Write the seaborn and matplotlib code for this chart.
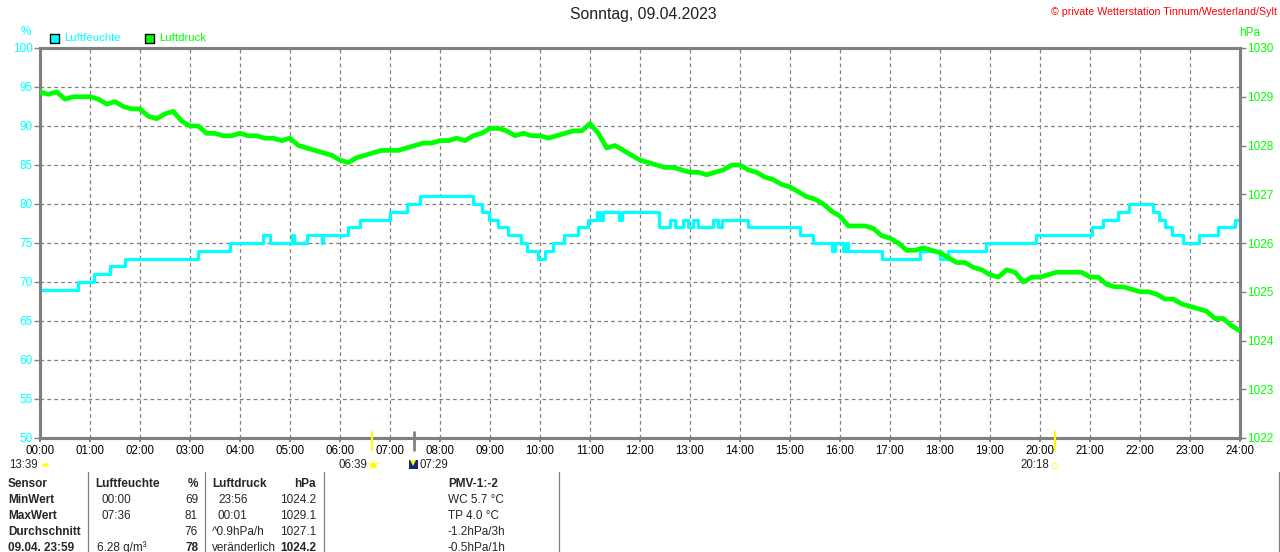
import numpy as np
import pandas as pd
import matplotlib
matplotlib.use('Agg')
import matplotlib.pyplot as plt
from matplotlib.patches import Rectangle
from matplotlib.lines import Line2D
import seaborn as sns

# Humidity (step series): time of change -> value in %
hum_times = ['00:00', '00:45', '01:05', '01:24', '01:42', '03:10', '03:48', '04:28', '04:36',
             '05:02', '05:05', '05:20', '05:38', '05:40', '06:10', '06:24', '07:00', '07:20',
             '07:36', '08:40', '08:50', '08:59', '09:10', '09:22', '09:37', '09:44', '09:58',
             '10:06', '10:15', '10:29', '10:45', '10:58', '11:08', '11:12', '11:16', '11:35',
             '11:38', '12:23', '12:36', '12:42', '12:51', '12:57', '13:03', '13:09', '13:28',
             '13:34', '13:38', '14:10', '15:12', '15:27', '15:50', '15:54', '16:04', '16:07',
             '16:10', '16:50', '17:36', '18:00', '18:10', '18:55', '19:55', '21:02', '21:15',
             '21:34', '21:47', '22:15', '22:23', '22:30', '22:38', '22:51', '23:11', '23:33',
             '23:54', '24:00']
hum_values = [69, 70, 71, 72, 73, 74, 75, 76, 75,
              76, 75, 76, 75, 76, 77, 78, 79, 80,
              81, 80, 79, 78, 77, 76, 75, 74, 73,
              74, 75, 76, 77, 78, 79, 78, 79, 78,
              79, 77, 78, 77, 78, 77, 78, 77, 78,
              77, 78, 77, 76, 75, 74, 75, 74, 75,
              74, 73, 74, 73, 74, 75, 76, 77, 78,
              79, 80, 79, 78, 77, 76, 75, 76, 77,
              78, 78]

# Pressure sampled every 10 minutes (00:00 .. 24:00), hPa
pressure = [1029.10, 1029.05, 1029.10, 1028.95, 1029.00, 1029.00,
            1029.00, 1028.95, 1028.85, 1028.90, 1028.80, 1028.75,
            1028.75, 1028.60, 1028.55, 1028.65, 1028.70, 1028.50,
            1028.40, 1028.40, 1028.25, 1028.25, 1028.20, 1028.20,
            1028.25, 1028.20, 1028.20, 1028.15, 1028.15, 1028.10,
            1028.15, 1028.00, 1027.95, 1027.90, 1027.85, 1027.80,
            1027.70, 1027.65, 1027.75, 1027.80, 1027.85, 1027.90,
            1027.90, 1027.90, 1027.95, 1028.00, 1028.05, 1028.05,
            1028.10, 1028.10, 1028.15, 1028.10, 1028.20, 1028.25,
            1028.35, 1028.35, 1028.30, 1028.20, 1028.25, 1028.20,
            1028.20, 1028.15, 1028.20, 1028.25, 1028.30, 1028.30,
            1028.45, 1028.25, 1027.95, 1028.00, 1027.90, 1027.80,
            1027.70, 1027.65, 1027.60, 1027.55, 1027.55, 1027.50,
            1027.45, 1027.45, 1027.40, 1027.45, 1027.50, 1027.60,
            1027.60, 1027.50, 1027.45, 1027.35, 1027.30, 1027.20,
            1027.15, 1027.05, 1026.95, 1026.90, 1026.80, 1026.65,
            1026.55, 1026.35, 1026.35, 1026.35, 1026.30, 1026.15,
            1026.10, 1026.00, 1025.85, 1025.85, 1025.90, 1025.85,
            1025.80, 1025.70, 1025.60, 1025.60, 1025.50, 1025.45,
            1025.35, 1025.30, 1025.45, 1025.40, 1025.20, 1025.30,
            1025.30, 1025.35, 1025.40, 1025.40, 1025.40, 1025.40,
            1025.30, 1025.30, 1025.15, 1025.10, 1025.10, 1025.05,
            1025.00, 1025.00, 1024.95, 1024.85, 1024.85, 1024.75,
            1024.70, 1024.65, 1024.60, 1024.45, 1024.45, 1024.30,
            1024.20]

hour_labels = ['%02d:00' % h for h in range(25)]
hum_ticks = list(range(50, 101, 5))
pres_ticks = list(range(1022, 1031))

title = 'Sonntag, 09.04.2023'
copyright_text = '© private Wetterstation Tinnum/Westerland/Sylt'

CYAN = '#00FFFF'
GREEN = '#00FF00'
GRAY = '#808080'
FONT = ['Liberation Sans', 'DejaVu Sans']


def to_hours(s):
    h, m = s.split(':')
    return int(h) + int(m) / 60


hum_df = pd.DataFrame({'t': [to_hours(s) for s in hum_times], 'v': hum_values})
pres_df = pd.DataFrame({'t': np.arange(len(pressure)) * 10 / 60, 'v': pressure})

sns.set_style('white')
plt.rcParams['font.family'] = FONT

W, H = 1280, 552
fig = plt.figure(figsize=(W / 100, H / 100), dpi=100)


def fx(x):
    return x / W


def fy(y):
    return 1 - y / H


ax = fig.add_axes([fx(40), fy(438), fx(1240) - fx(40), fy(48) - fy(438)])
ax2 = ax.twinx()

sns.lineplot(data=hum_df, x='t', y='v', ax=ax, color=CYAN, linewidth=2.3,
             drawstyle='steps-post', zorder=3)
sns.lineplot(data=pres_df, x='t', y='v', ax=ax2, color=GREEN, linewidth=3.4, zorder=3)

ax.set_xlim(0, 24)
ax.set_ylim(50, 100)
ax2.set_ylim(1022, 1030)
ax.set_xticks(range(25))
ax.set_xticklabels(hour_labels)
ax.set_yticks(hum_ticks)
ax2.set_yticks(pres_ticks)
ax.set_xlabel('')
ax.set_ylabel('')
ax2.set_ylabel('')

ax.grid(True, color=GRAY, linestyle=(0, (3, 2.5)), linewidth=0.9)
ax2.grid(False)

for a in (ax, ax2):
    for sp in a.spines.values():
        sp.set_color(GRAY)
        sp.set_linewidth(2.2)
        sp.set_visible(True)

ax.tick_params(axis='y', colors=GRAY, labelcolor=CYAN, length=4, width=1, pad=1,
               labelsize=8.5, direction='out', left=True)
ax.tick_params(axis='x', colors=GRAY, labelcolor='black', length=3, width=1.3, pad=2,
               labelsize=8.3, direction='out', bottom=True)
ax2.tick_params(axis='y', colors=GRAY, labelcolor=GREEN, length=4, width=1, pad=1,
                labelsize=8.5, direction='out', right=True)

# header texts
fig.text(fx(643), fy(15), title, ha='center', va='center', fontsize=11.3, color='#202020')
fig.text(fx(1277), fy(12), copyright_text, ha='right', va='center', fontsize=7.7, color='red')
fig.text(fx(26), fy(32), '%', ha='center', va='center', fontsize=8.5, color=CYAN)
fig.text(fx(1250), fy(33), 'hPa', ha='center', va='center', fontsize=8.5, color=GREEN)

# legend
for x0, col, lab in [(50, CYAN, 'Luftfeuchte'), (145, GREEN, 'Luftdruck')]:
    fig.patches.append(Rectangle((fx(x0), fy(43)), fx(9), fy(0) - fy(9), transform=fig.transFigure,
                                 facecolor=col, edgecolor='black', linewidth=1))
    fig.text(fx(x0 + 14), fy(38), lab, ha='left', va='center', fontsize=8.2, color=col)

# sunrise / sunset / moon marks
for xx, col, lw in [(372, '#FFFF00', 1.6), (414, GRAY, 2.0), (1055, '#FFFF00', 1.6)]:
    fig.add_artist(Line2D([fx(xx), fx(xx)], [fy(432), fy(450)], color=col, linewidth=lw,
                          transform=fig.transFigure))
ty = 465
fig.text(fx(38), fy(ty), '13:39', ha='right', va='center', fontsize=8.3)
fig.add_artist(Line2D([fx(45)], [fy(ty + 1)], marker='o', markersize=5, color='#FFFF00',
                      fillstyle='top', markeredgewidth=0, transform=fig.transFigure))
fig.text(fx(367), fy(ty), '06:39', ha='right', va='center', fontsize=8.3)
fig.add_artist(Line2D([fx(373)], [fy(ty)], marker='*', markersize=9, color='#FFFF40',
                      markeredgewidth=0, transform=fig.transFigure))
fig.add_artist(Line2D([fx(373)], [fy(ty)], marker='o', markersize=4, color='#FFFF00',
                      markeredgewidth=0, transform=fig.transFigure))
fig.patches.append(Rectangle((fx(409), fy(469)), fx(9), fy(0) - fy(9), transform=fig.transFigure,
                             facecolor='#1A237E', edgecolor='none'))
fig.add_artist(Line2D([fx(413)], [fy(463)], marker='v', markersize=5, color='#FFFF00',
                      markeredgewidth=0, transform=fig.transFigure))
fig.text(fx(420), fy(ty), '07:29', ha='left', va='center', fontsize=8.3)
fig.text(fx(1049), fy(ty), '20:18', ha='right', va='center', fontsize=8.3)
fig.patches.append(Rectangle((fx(1052), fy(468)), fx(5), fy(0) - fy(5), transform=fig.transFigure,
                             facecolor='none', edgecolor='#FFFF60', linewidth=0.8))

# statistics table
for xx in (88, 205, 324, 559, 1279):
    fig.add_artist(Line2D([fx(xx), fx(xx)], [fy(472), fy(552)], color=GRAY, linewidth=0.9,
                          transform=fig.transFigure))

rows_y = [484, 500, 516, 532, 548]
row_names = ['Sensor', 'MinWert', 'MaxWert', 'Durchschnitt', '09.04. 23:59']
hum_col_time = ['Luftfeuchte', '00:00', '07:36', '', '6.28 g/m³']
hum_col_val = ['%', '69', '81', '76', '78']
pres_col_time = ['Luftdruck', '23:56', '00:01', '^0.9hPa/h', 'veränderlich']
pres_col_val = ['hPa', '1024.2', '1029.1', '1027.1', '1024.2']
extra_col = ['PMV-1:-2', 'WC 5.7 °C', 'TP 4.0 °C', '-1.2hPa/3h', '-0.5hPa/1h']

for i, y in enumerate(rows_y):
    bold_row = i == 0 or i == 4
    fig.text(fx(8), fy(y), row_names[i], ha='left', va='center', fontsize=8.5, fontweight='bold')
    x_t = 95 if i == 0 else 101
    if i == 4:
        x_t = 97
    fig.text(fx(x_t), fy(y), hum_col_time[i], ha='left', va='center', fontsize=8.5,
             fontweight='bold' if i == 0 else 'normal')
    fig.text(fx(198), fy(y), hum_col_val[i], ha='right', va='center', fontsize=8.5,
             fontweight='bold' if bold_row else 'normal')
    x_p = 218 if i in (1, 2) else 212
    fig.text(fx(x_p), fy(y), pres_col_time[i], ha='left', va='center', fontsize=8.5,
             fontweight='bold' if i == 0 else 'normal')
    fig.text(fx(316), fy(y), pres_col_val[i], ha='right', va='center', fontsize=8.5,
             fontweight='bold' if bold_row else 'normal')
    fig.text(fx(448), fy(y), extra_col[i], ha='left', va='center', fontsize=8.5,
             fontweight='bold' if i == 0 else 'normal')

fig.savefig('out.png', dpi=100, facecolor='white')
